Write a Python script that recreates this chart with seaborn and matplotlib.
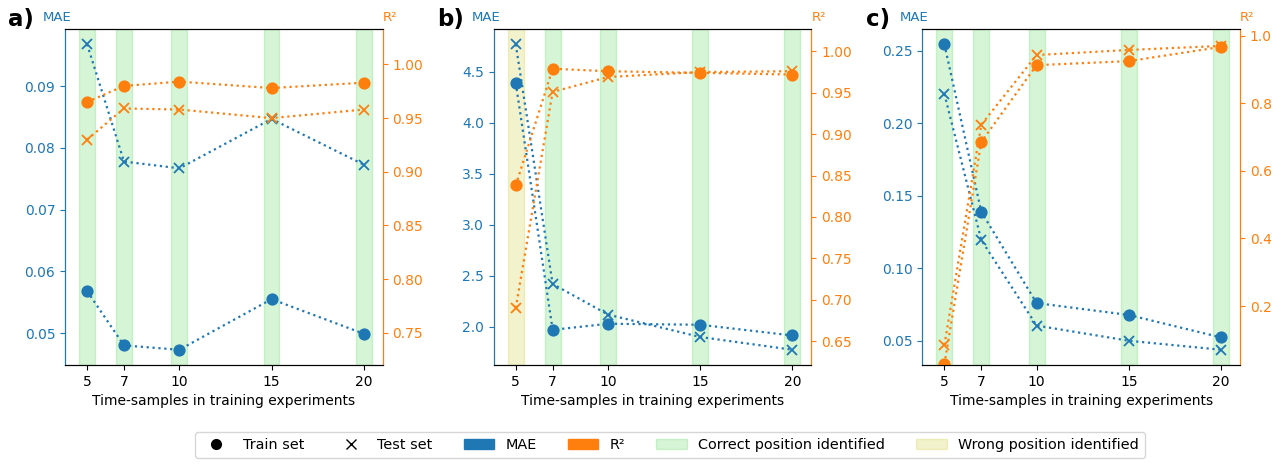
import matplotlib
matplotlib.use("Agg")
import matplotlib.pyplot as plt
import seaborn as sns
import pandas as pd
from matplotlib.patches import Patch
from matplotlib.lines import Line2D

sns.set_style("ticks")
plt.rcParams['font.family'] = ['DejaVu Sans']
plt.rcParams['text.color'] = 'black'
plt.rcParams['axes.labelcolor'] = 'black'
plt.rcParams['xtick.color'] = 'black'
plt.rcParams['ytick.color'] = 'black'
plt.rcParams['axes.edgecolor'] = 'black'

x_samples = [5, 7, 10, 15, 20]

a_mae_train = [0.0568, 0.0480, 0.0473, 0.0555, 0.0499]
a_mae_test = [0.0968, 0.0778, 0.0767, 0.0847, 0.0773]
a_r2_train = [0.965, 0.980, 0.984, 0.978, 0.983]
a_r2_test = [0.930, 0.959, 0.958, 0.950, 0.958]
a_correct = [True, True, True, True, True]

b_mae_train = [4.39, 1.97, 2.03, 2.02, 1.915]
b_mae_test = [4.77, 2.42, 2.12, 1.90, 1.775]
b_r2_train = [0.838, 0.979, 0.976, 0.974, 0.972]
b_r2_test = [0.690, 0.951, 0.969, 0.975, 0.976]
b_correct = [False, True, True, True, True]

c_mae_train = [0.2546, 0.139, 0.076, 0.0678, 0.0523]
c_mae_test = [0.2203, 0.1195, 0.0605, 0.050, 0.0438]
c_r2_train = [0.028, 0.686, 0.913, 0.925, 0.967]
c_r2_test = [0.085, 0.737, 0.943, 0.958, 0.970]
c_correct = [True, True, True, True, True]

panel_labels = ["a)", "b)", "c)"]
r2_limits = [(0.72, 1.033), (0.621, 1.027), (0.0254, 1.02)]

BLUE = "#1f77b4"
ORANGE = "#ff7f0e"

panels = [
    (a_mae_train, a_mae_test, a_r2_train, a_r2_test, a_correct),
    (b_mae_train, b_mae_test, b_r2_train, b_r2_test, b_correct),
    (c_mae_train, c_mae_test, c_r2_train, c_r2_test, c_correct),
]

fig, axes = plt.subplots(1, 3, figsize=(12.87, 4.65), dpi=100)
fig.subplots_adjust(left=0.0505, right=0.9635, top=0.9376, bottom=0.215, wspace=0.349)


def draw(ax, y, color, marker):
    df = pd.DataFrame({"x": x_samples, "y": y})
    ms = 7.5 if marker == "o" else 7
    sns.lineplot(data=df, x="x", y="y", ax=ax, color=color, linestyle=":",
                 marker=marker, markersize=ms, markeredgecolor=color,
                 markeredgewidth=1.3, linewidth=1.6, clip_on=True)


for i, (ax, (mtr, mte, rtr, rte, corr)) in enumerate(zip(axes, panels)):
    for xv, ok in zip(x_samples, corr):
        ax.axvspan(xv - 0.43, xv + 0.43, color="limegreen" if ok else "y",
                   alpha=0.2, zorder=0, lw=1)
    draw(ax, mtr, BLUE, "o")
    draw(ax, mte, BLUE, "x")
    ax2 = ax.twinx()
    draw(ax2, rtr, ORANGE, "o")
    draw(ax2, rte, ORANGE, "x")

    ax.set_xlim(3.8, 21.03)
    ax.set_xticks(x_samples)
    ax.set_xlabel("Time-samples in training experiments", fontsize=10)
    ax.set_ylabel("")
    ax2.set_ylabel("")
    ax2.set_ylim(*r2_limits[i])

    ax.tick_params(axis="y", colors=BLUE, labelsize=10)
    ax.tick_params(axis="x", labelsize=10)
    ax2.tick_params(axis="y", colors=ORANGE, labelsize=10)
    ax.spines["left"].set_color(BLUE)
    ax2.spines["left"].set_color(BLUE)
    ax.spines["right"].set_color(ORANGE)
    ax2.spines["right"].set_color(ORANGE)

    ax.text(-0.07, 1.015, "MAE", transform=ax.transAxes, color=BLUE,
            fontsize=9.5, ha="left", va="bottom")
    ax2.text(1.0, 1.015, "R²", transform=ax2.transAxes, color=ORANGE,
             fontsize=9.5, ha="left", va="bottom")
    ax.text(-0.178, 0.995, panel_labels[i], transform=ax.transAxes,
            fontsize=16.5, fontweight="bold", ha="left", va="bottom")

handles = [
    Line2D([], [], color="black", marker="o", linestyle="none", markersize=7),
    Line2D([], [], color="black", marker="x", linestyle="none", markersize=7),
    Patch(facecolor=BLUE, edgecolor=BLUE),
    Patch(facecolor=ORANGE, edgecolor=ORANGE),
    Patch(facecolor="limegreen", edgecolor="limegreen", alpha=0.2),
    Patch(facecolor="y", edgecolor="y", alpha=0.2),
]
labels = ["Train set", "Test set", "MAE", "R²", "Correct position identified",
          "Wrong position identified"]
fig.legend(handles, labels, loc="lower center", ncol=6, bbox_to_anchor=(0.5206, 0.0),
           fontsize=10.4, frameon=True, columnspacing=2.15, handlelength=2.1)

fig.savefig("out.png", dpi=100)
